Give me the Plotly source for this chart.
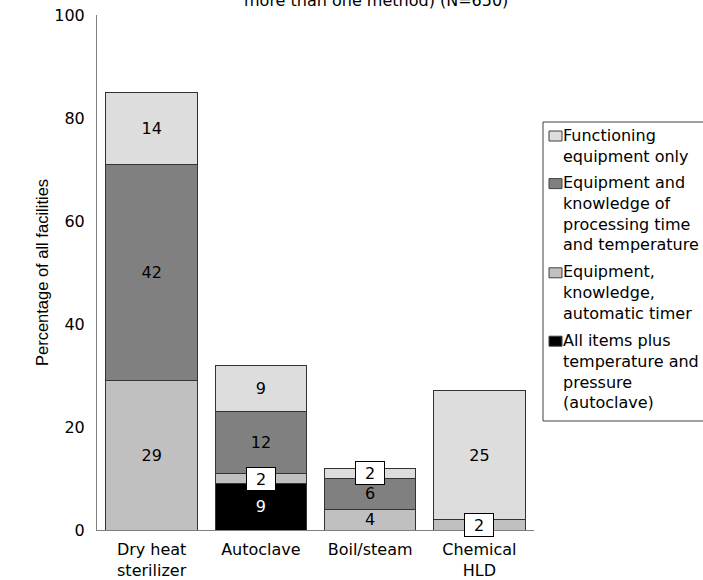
import plotly.graph_objects as go

# ---- data ----
categories = ["Dry heat<br>sterilizer", "Autoclave", "Boil/steam", "Chemical<br>HLD"]
all_items = [None, 9, None, None]          # All items plus temperature and pressure (autoclave)
timer = [29, 2, 4, 2]                       # Equipment, knowledge, automatic timer
knowledge = [42, 12, 6, None]               # Equipment and knowledge of processing time and temperature
functioning = [14, 9, 2, 25]                # Functioning equipment only
y_ticks = [0, 20, 40, 60, 80, 100]

legend_labels = [
    "Functioning<br>equipment only",
    "Equipment and<br>knowledge of<br>processing time<br>and temperature",
    "Equipment,<br>knowledge,<br>automatic timer",
    "All items plus<br>temperature and<br>pressure<br>(autoclave)",
]
title_text = "more than one method) (N=650)"
y_title = "Percentage of all facilities"

# ---- styling ----
FONT = "DejaVu Sans"
colors = ["#000000", "#C0C0C0", "#808080", "#DDDDDD"]   # stack order bottom -> top
text_colors = ["#FFFFFF", "#000000", "#000000", "#000000"]
series = [all_items, timer, knowledge, functioning]
names = [legend_labels[3], legend_labels[2], legend_labels[1], legend_labels[0]]

W, H = 703, 580
# plot area in pixels
L, R, T, B = 97, 534, 15, 530


def px_x(p):
    return (p - L) / (R - L)


def px_y(p):
    return (B - p) / (B - T)


fig = go.Figure()
for vals, col, tcol, nm in zip(series, colors, text_colors, names):
    txt = [str(v) if (v is not None and v > 2) else "" for v in vals]
    fig.add_trace(go.Bar(
        x=categories, y=vals, name=nm.replace("<br>", " "),
        marker=dict(color=col, line=dict(color="#333333", width=1)),
        text=txt, textposition="inside", insidetextanchor="middle", textangle=0,
        textfont=dict(family=FONT, size=16, color=tcol),
        hoverinfo="x+y+name",
    ))

# boxed labels for small segments
annotations = []
base = [0] * len(categories)
for vals in series:
    for i, v in enumerate(vals):
        if v is None:
            continue
        if v <= 2:
            annotations.append(dict(
                x=i, y=base[i] + v / 2, xref="x", yref="y", text=str(v), showarrow=False,
                font=dict(family=FONT, size=16, color="#000"),
                bgcolor="#FFFFFF", bordercolor="#000000", borderwidth=1, borderpad=1,
                width=26, height=20, xanchor="center", yanchor="middle"))
        base[i] += v

# title (its upper part lies outside the figure, as in the original)
annotations.append(dict(
    x=px_x(376), y=px_y(12.5), xref="paper", yref="paper", text=title_text, showarrow=False,
    font=dict(family=FONT, size=16, color="#000"), xanchor="center", yanchor="bottom"))

# legend box drawn with shapes + text
shapes = []
leg_top, leg_bot = 122, 421
shapes.append(dict(type="rect", xref="paper", yref="paper",
                   x0=px_x(543), x1=px_x(730), y0=px_y(leg_bot), y1=px_y(leg_top),
                   line=dict(color="#404040", width=1), fillcolor="#FFFFFF", layer="above"))
line_h = 20.8
yc = leg_top + 14
leg_colors = colors[::-1]
for lab, col in zip(legend_labels, leg_colors):
    nlines = lab.count("<br>") + 1
    shapes.append(dict(type="rect", xref="paper", yref="paper",
                       x0=px_x(549), x1=px_x(562), y0=px_y(yc + 5), y1=px_y(yc - 5),
                       line=dict(color="#404040", width=1), fillcolor=col, layer="above"))
    annotations.append(dict(
        x=px_x(562), y=px_y(yc - line_h / 2 - 1), xref="paper", yref="paper", text=lab,
        showarrow=False, align="left", xanchor="left", yanchor="top", borderpad=0,
        font=dict(family=FONT, size=16, color="#000")))
    yc += nlines * line_h + 6

fig.update_layout(
    width=W, height=H,
    margin=dict(l=L, r=W - R, t=T, b=H - B, autoexpand=False),
    barmode="stack", bargap=0.164,
    plot_bgcolor="#FFFFFF", paper_bgcolor="#FFFFFF",
    showlegend=False,
    font=dict(family=FONT, size=16, color="#000000"),
    uniformtext=dict(minsize=16, mode="show"),
    annotations=annotations, shapes=shapes,
)
fig.update_xaxes(type="category", range=[-0.5, 3.5], showline=True, linecolor="#808080",
                 linewidth=1, ticks="", showgrid=False, zeroline=False, ticklabelstandoff=5,
                 tickfont=dict(family=FONT, size=16, color="#000"))
fig.update_yaxes(range=[0, 100], tickvals=y_ticks, showline=True, linecolor="#808080",
                 linewidth=1, ticks="", showgrid=False, zeroline=False, ticklabelstandoff=8,
                 ticklabeloverflow="allow",
                 tickfont=dict(family=FONT, size=16, color="#000"),
                 title=dict(text=y_title, standoff=1,
                            font=dict(family="Liberation Sans", size=16.5, color="#000")))

fig.write_html("out.html", config={"displayModeBar": False},
               post_script="document.body.style.margin='0';document.body.style.overflow='hidden';")
